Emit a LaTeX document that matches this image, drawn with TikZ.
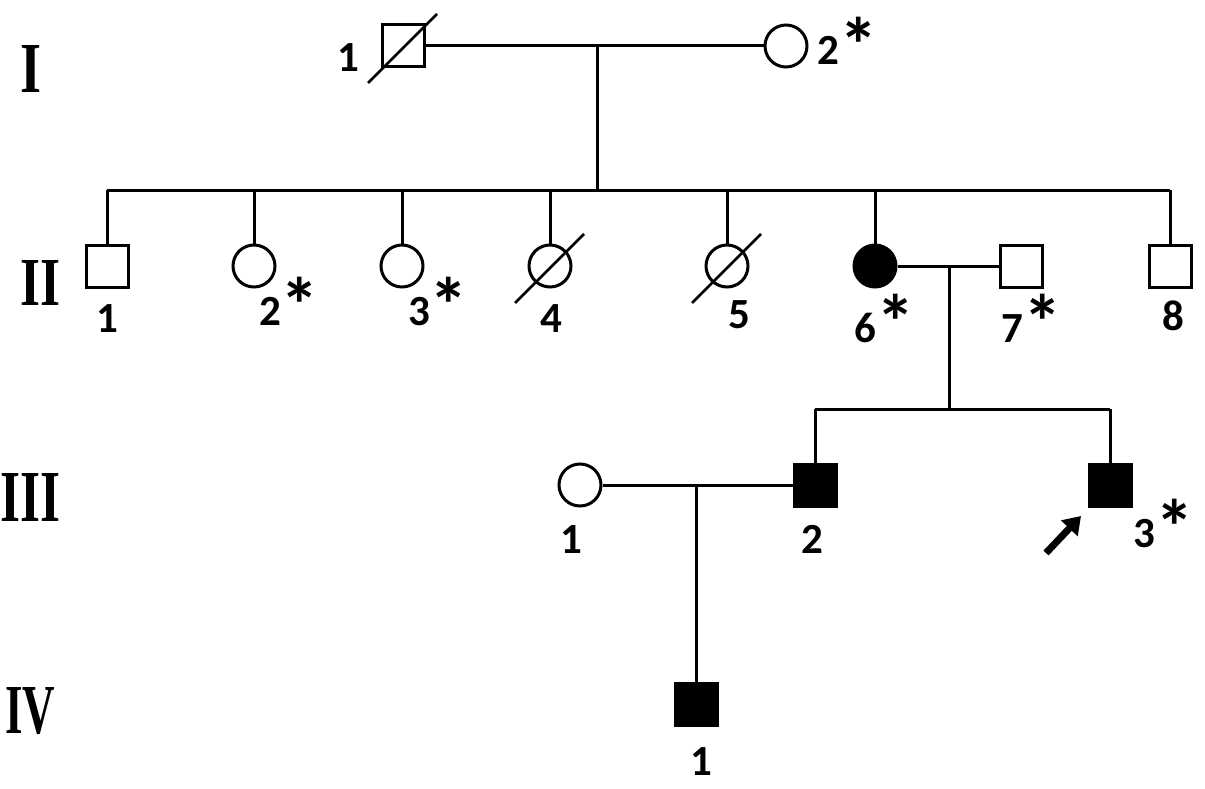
\documentclass[tikz,border=0pt]{standalone}
\usepackage{fontspec}
\usepackage{graphicx}
\newfontfamily\labfont{Carlito}
\newfontfamily\romfont{Liberation Serif}
\usetikzlibrary{arrows.meta}
\tikzset{
  male/.style={draw, line width=3pt, minimum size=42pt, inner sep=0pt, rectangle},
  female/.style={draw, line width=3pt, minimum size=42pt, inner sep=0pt, circle},
  aff/.style={fill=black},
  conn/.style={line width=3pt},
  slash/.style={line width=2.6pt},
  lab/.style={inner sep=0pt, font=\labfont\bfseries\fontsize{43}{48}\selectfont},
  rom/.style={inner sep=0pt, anchor=north west, font=\romfont\bfseries\fontsize{70}{80}\selectfont},
}
\newcommand{\st}{\raisebox{-0.17em}{\scalebox{1.8}{*}}}
\begin{document}
\begin{tikzpicture}[x=1pt,y=-1pt]
\useasboundingbox[fill=white] (0,0) rectangle (1205,789);
% generation labels
\node[rom] (gI) at (20,45) {\resizebox{21pt}{47pt}{I}};
\node[rom] (gII) at (20,260) {\resizebox{40pt}{45pt}{II}};
\node[rom] (gIII) at (0,473) {\resizebox{60pt}{48pt}{III}};
\node[rom] (gIV) at (5,687) {\resizebox{50pt}{46pt}{IV}};
% generation I
\node[male] (i1) at (403,46) {};
\node[female] (i2) at (786,46) {};
\draw[slash] (i1.center) ++(-35,37) -- ++(69,-69);
\draw[conn] (i1) -- (i2);
\coordinate (m1) at (597,46);
\coordinate (s2) at (597,190);
\draw[conn] (m1) -- (s2);
% generation II
\node[male] (ii1) at (107,266) {};
\node[female] (ii2) at (254,266) {};
\node[female] (ii3) at (402,266) {};
\node[female] (ii4) at (550,266) {};
\node[female] (ii5) at (727,266) {};
\node[female,aff] (ii6) at (875,266) {};
\node[male] (ii7) at (1021,266) {};
\node[male] (ii8) at (1170,266) {};
\draw[slash] (ii4.center) ++(-35,37) -- ++(69,-69);
\draw[slash] (ii5.center) ++(-35,37) -- ++(69,-69);
\draw[conn] (ii1.north |- s2) -- (ii8.north |- s2);
\foreach \n in {ii1,ii2,ii3,ii4,ii5,ii6,ii8}
  \draw[conn] (\n.north) -- (\n.north |- s2);
\draw[conn] (ii6) -- (ii7);
\coordinate (m2) at (949,266);
\coordinate (s3) at (949,409);
\draw[conn] (m2) -- (s3);
% generation III
\node[female] (iii1) at (580,485) {};
\node[male,aff] (iii2) at (815,485) {};
\node[male,aff] (iii3) at (1110,485) {};
\draw[conn] (iii2.north |- s3) -- (iii3.north |- s3);
\draw[conn] (iii2.north) -- (iii2.north |- s3);
\draw[conn] (iii3.north) -- (iii3.north |- s3);
\draw[conn] (iii1) -- (iii2);
\coordinate (m3) at (696,485);
% generation IV
\node[male,aff] (iv1) at (696,704) {};
\draw[conn] (m3) -- (iv1.north);
% proband arrow
\coordinate (arT) at (1046,553);
\coordinate (arH) at (1081,516);
\draw[line width=7pt, -{Triangle[width=22pt,length=17pt]}] (arT) -- (arH);
% labels
\node[lab, anchor=base] (l-i1) at (348,72) {1};
\node[lab, anchor=base west] (l-i2) at (817,65) {2\st};
\node[lab, anchor=base] (l-ii1) at (107,332) {1};
\node[lab, anchor=base west] (l-ii2) at (259,325) {2\st};
\node[lab, anchor=base west] (l-ii3) at (408,325) {3\st};
\node[lab, anchor=base] (l-ii4) at (551,332) {4};
\node[lab, anchor=base] (l-ii5) at (739,328) {5};
\node[lab, anchor=base west] (l-ii6) at (854,342) {6\st};
\node[lab, anchor=base west] (l-ii7) at (1001,342) {7\st};
\node[lab, anchor=base] (l-ii8) at (1173,330) {8};
\node[lab, anchor=base] (l-iii1) at (571,553) {1};
\node[lab, anchor=base] (l-iii2) at (812,553) {2};
\node[lab, anchor=base west] (l-iii3) at (1133,547) {3\st};
\node[lab, anchor=base] (l-iv1) at (701,775) {1};
\end{tikzpicture}
\end{document}
